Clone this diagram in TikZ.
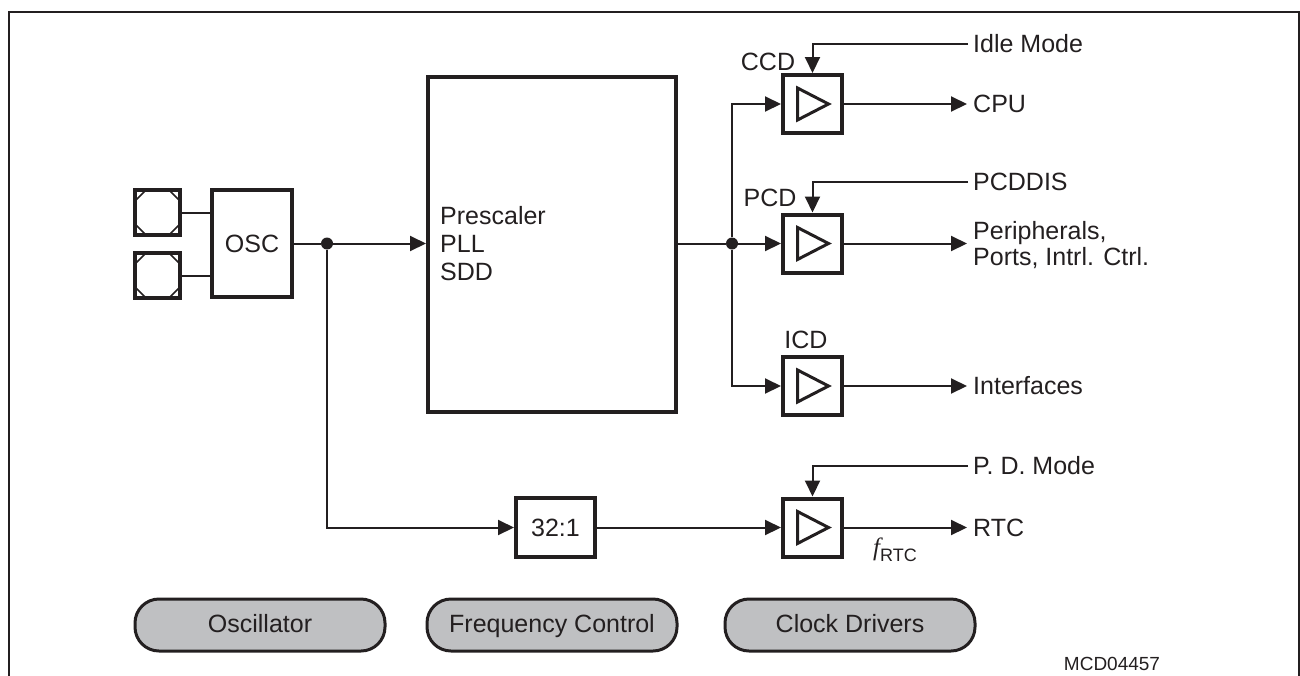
\documentclass[tikz,border=0pt]{standalone}
\usepackage{fontspec}
\setmainfont{Liberation Sans}
\newfontfamily\serifit{Liberation Serif}
\usetikzlibrary{arrows.meta,calc}
\definecolor{ink}{HTML}{231F20}
\definecolor{pillgray}{HTML}{BFC0C2}
\begin{document}
\begin{tikzpicture}[x=1pt,y=-1pt,
  font=\fontsize{25}{28}\selectfont,
  box/.style={draw=ink, line width=4pt, inner sep=0pt, text=ink},
  pinbox/.style={box, minimum size=45pt,
    path picture={
      \coordinate (pb) at (path picture bounding box.center);
      \draw[ink, line width=1.6pt] ($(pb)+(-22.5,-11.5)$) -- ($(pb)+(-11.5,-22.5)$);
      \draw[ink, line width=1.6pt] ($(pb)+(22.5,-11.5)$) -- ($(pb)+(11.5,-22.5)$);
      \draw[ink, line width=1.6pt] ($(pb)+(-22.5,11.5)$) -- ($(pb)+(-11.5,22.5)$);
      \draw[ink, line width=1.6pt] ($(pb)+(22.5,11.5)$) -- ($(pb)+(11.5,22.5)$);
    }},
  drv/.style={box, minimum width=59pt, minimum height=58pt,
    path picture={
      \coordinate (pc) at (path picture bounding box.center);
      \draw[ink, line width=3pt, line join=miter] ($(pc)+(-15,-16)$) -- ($(pc)+(16,0)$) -- ($(pc)+(-15,16)$) -- cycle;
    }},
  wire/.style={draw=ink, line width=2pt},
  arr/.style={wire, -{Triangle[length=16pt,width=15pt]}},
  outarr/.style={arr, shorten >=4pt},
  dot/.style={circle, fill=ink, inner sep=0pt, minimum size=12pt},
  lbl/.style={anchor=west, inner sep=2pt, text=ink},
  tag/.style={inner sep=1pt, text=ink},
  pill/.style={draw=ink, line width=3pt, fill=pillgray, rounded corners=24pt,
    minimum width=250pt, minimum height=52pt, inner sep=0pt, text=ink,
    text height=18pt, text depth=3pt,
    font=\fontsize{25}{28}\selectfont}]

\useasboundingbox (0,0) rectangle (1300,675);
\draw[ink, line width=2pt] (9,676) -- (9,12) -- (1299,12) -- (1299,676);

% oscillator
\node[pinbox] (pinA) at (157.5,212.5) {};
\node[pinbox] (pinB) at (157.5,275.5) {};
\node[box, minimum width=80pt, minimum height=107pt] (osc) at (252,243.5) {OSC};
\draw[wire] (pinA.east) -- (pinA.east -| osc.west);
\draw[wire] (pinB.east) -- (pinB.east -| osc.west);

% prescaler
\node[box, minimum width=248pt, minimum height=335pt] (pre) at (552,244.5) {};
\node[align=left, anchor=west, inner sep=0pt, text=ink] (pretxt) at (440,243.5) {Prescaler\\PLL\\SDD};

\node[dot] (d1) at (327,243.5) {};
\draw[wire] (osc.east) -- (d1);
\draw[arr] (d1) -- (d1 -| pre.west);

% divider
\node[box, minimum width=79pt, minimum height=59pt] (div) at (555.5,527.5) {32:1};
\draw[arr] (d1) |- (div.west);

% drivers
\node[drv] (ccd) at (812.5,104) {};
\node[drv] (pcd) at (812.5,243.5) {};
\node[drv] (icd) at (812.5,386) {};
\node[drv] (rtc) at (812.5,527.5) {};

\node[tag] (ccdl) at (768,62) {CCD};
\node[tag] (pcdl) at (770,198) {PCD};
\node[tag] (icdl) at (806,340) {ICD};

\node[dot] (d2) at (732,243.5) {};
\draw[wire] (d2 -| pre.east) -- (d2);
\draw[arr] (d2) -- (pcd.west);
\draw[arr] (d2) |- (ccd.west);
\draw[arr] (d2) |- (icd.west);
\draw[arr] (div.east) -- (rtc.west);

% outputs
\node[lbl] (cpu) at (971,104) {CPU};
\node[lbl, align=left, font=\fontsize{25}{26}\selectfont] (per) at (971,245) {Peripherals,\\Ports, Intrl. Ctrl.};
\node[lbl] (intf) at (971,386) {Interfaces};
\node[lbl] (rtco) at (971,527.5) {RTC};
\draw[outarr] (ccd.east) -- (cpu.west);
\draw[outarr] (pcd.east) -- (pcd.east -| per.west);
\draw[outarr] (icd.east) -- (intf.west);
\draw[outarr] (rtc.east) -- (rtco.west);

% controls
\node[lbl] (idle) at (971,44) {Idle Mode};
\node[lbl] (pcddis) at (971,182) {PCDDIS};
\node[lbl] (pdm) at (971,466) {P. D. Mode};
\draw[arr, shorten <=3pt] (idle.west) -| (ccd.north);
\draw[arr, shorten <=3pt] (pcddis.west) -| (pcd.north);
\draw[arr, shorten <=3pt] (pdm.west) -| (rtc.north);

\node[tag, anchor=west] (frtc) at (872,550) {{\serifit\itshape f}\raisebox{-6pt}{\fontsize{18}{18}\selectfont RTC}};

% legend pills
\node[pill] (p1) at (260,625) {Oscillator};
\node[pill] (p2) at (552,625) {Frequency Control};
\node[pill] (p3) at (850,625) {Clock Drivers};

\node[tag, font=\fontsize{19}{22}\selectfont] (mcd) at (1112,664) {MCD04457};
\end{tikzpicture}
\end{document}
